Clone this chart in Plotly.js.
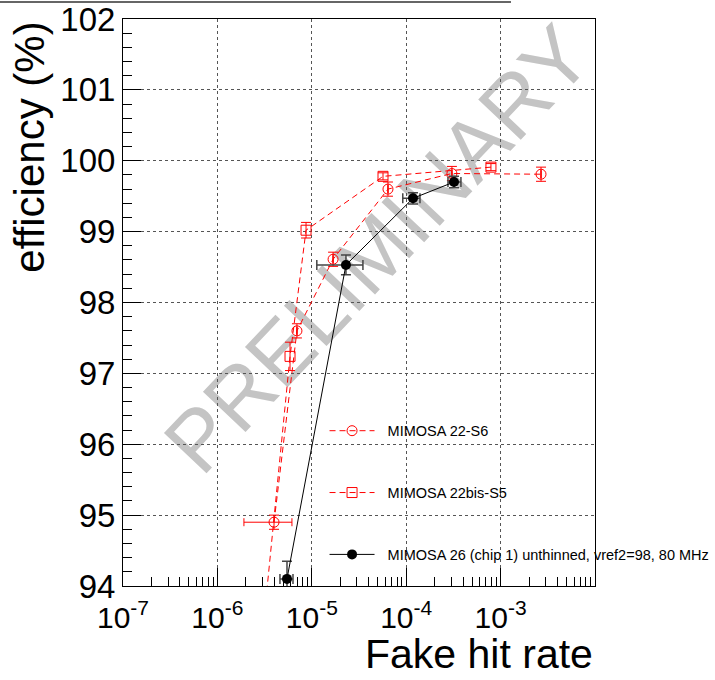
<!DOCTYPE html>
<html>
<head>
<meta charset="utf-8">
<script src="https://cdn.plot.ly/plotly-3.0.1.min.js"></script>
<style>
  html, body { margin: 0; padding: 0; background: #fff; }
  #chart { width: 715px; height: 680px; }
</style>
</head>
<body>
<div id="chart"></div>
<script>
// ---- data ----
const seriesNames = ["MIMOSA 22-S6", "MIMOSA 22bis-S5", "MIMOSA 26 (chip 1) unthinned, vref2=98, 80 MHz"];

const s6_x   = [3.98e-6, 6.96e-6, 1.68e-5, 6.41e-5, 3.05e-4, 2.68e-3];
const s6_y   = [94.90, 97.60, 98.61, 99.60, 99.82, 99.81];
const s6_exm = [2.07e-6, 0, 0, 0, 0, 0];
const s6_exp = [2.18e-6, 0, 0, 0, 0, 0];
const s6_ey  = [0.10, 0.10, 0.10, 0.10, 0.10, 0.10];

const s5_x   = [3.1e-6, 5.88e-6, 8.69e-6, 5.68e-5, 7.9e-4];
const s5_y   = [93.5, 97.24, 99.02, 99.78, 99.91];
const s5_ey  = [0.20, 0.20, 0.11, 0.05, 0.05];

const m26_x   = [5.46e-6, 2.30e-5, 1.18e-4, 3.21e-4];
const m26_y   = [94.10, 98.53, 99.47, 99.70];
const m26_exm = [0.86e-6, 1.17e-5, 2.6e-5, 4.4e-5];
const m26_exp = [0.86e-6, 1.18e-5, 2.2e-5, 5.9e-5];
const m26_ey  = [0.25, 0.14, 0.08, 0.08];

const xTickVals = [1e-7, 1e-6, 1e-5, 1e-4, 1e-3];
const xTickText = ["10<sup>-7</sup>", "10<sup>-6</sup>", "10<sup>-5</sup>", "10<sup>-4</sup>", "10<sup>-3</sup>"];

const xTitle = "Fake hit rate";
const yTitle = "efficiency (%)";
const watermark = "PRELIMINARY";

const FONT = "Liberation Sans, Arial, Helvetica, sans-serif";
const RED = "#ff0000";
const PAD = "\u00a0\u00a0";

const traces = [
  {
    name: PAD + seriesNames[0], legendgroup: "a",
    x: s6_x, y: s6_y, type: "scatter", mode: "lines+markers",
    line: { color: RED, width: 1, dash: "6px,4px" },
    marker: { symbol: "circle-open", size: 10, color: RED, line: { width: 1, color: RED } },
    error_x: { type: "data", array: s6_exp, arrayminus: s6_exm, color: RED, thickness: 1, width: 4 },
    error_y: { type: "data", array: s6_ey, color: RED, thickness: 1, width: 5 }
  },
  {
    name: PAD + seriesNames[1], legendgroup: "b",
    x: s5_x, y: s5_y, type: "scatter", mode: "lines+markers",
    line: { color: RED, width: 1, dash: "6px,4px" },
    marker: { symbol: "square-open", size: 10, color: RED, line: { width: 1, color: RED } },
    error_y: { type: "data", array: s5_ey, color: RED, thickness: 1, width: 5 }
  },
  {
    name: PAD + seriesNames[2], legendgroup: "c",
    x: m26_x, y: m26_y, type: "scatter", mode: "lines+markers",
    line: { color: "#000", width: 1 },
    marker: { symbol: "circle", size: 10, color: "#000" },
    error_x: { type: "data", array: m26_exp, arrayminus: m26_exm, color: "#444", thickness: 1.5, width: 5 },
    error_y: { type: "data", array: m26_ey, color: "#444", thickness: 1.5, width: 5 }
  }
];

const layout = {
  width: 715, height: 680,
  margin: { l: 123, r: 120, t: 19, b: 94, pad: 0, autoexpand: false },
  paper_bgcolor: "#fff", plot_bgcolor: "rgba(0,0,0,0)",
  font: { family: FONT, color: "#000", size: 14 },
  showlegend: true,
  legend: {
    x: 0.427, y: 0.302, xanchor: "left", yanchor: "top",
    bgcolor: "rgba(0,0,0,0)", borderwidth: 0,
    font: { family: FONT, size: 14.5, color: "#000" },
    traceorder: "grouped", tracegroupgap: 40, itemwidth: 45
  },
  xaxis: {
    type: "log", range: [-7, -2],
    tickmode: "array", tickvals: xTickVals, ticktext: xTickText,
    showline: true, linecolor: "#000", linewidth: 1, mirror: true,
    ticks: "inside", ticklen: 18, tickcolor: "#000", tickwidth: 1,
    minor: { ticks: "inside", ticklen: 9, dtick: "D1", tickcolor: "#000", showgrid: false },
    showgrid: true, gridcolor: "#555", gridwidth: 1, griddash: "dot",
    zeroline: false, ticklabelstandoff: 5,
    tickfont: { family: FONT, size: 30, color: "#000" }
  },
  yaxis: {
    range: [94, 102], dtick: 1,
    showline: true, linecolor: "#000", linewidth: 1, mirror: true,
    ticks: "inside", ticklen: 18, tickcolor: "#000", tickwidth: 1,
    minor: { ticks: "inside", ticklen: 9, dtick: 0.2, tickcolor: "#000", showgrid: false },
    showgrid: true, gridcolor: "#555", gridwidth: 1, griddash: "dot",
    zeroline: false,
    tickfont: { family: FONT, size: 33, color: "#000" }
  },
  shapes: [
    { type: "line", xref: "paper", yref: "paper", x0: -0.2606, x1: 0.822, y0: 1.030, y1: 1.030,
      line: { color: "#666", width: 2 } }
  ],
  annotations: [
    { text: watermark, xref: "paper", yref: "paper", x: 0.54, y: 0.595,
      xanchor: "center", yanchor: "middle", textangle: -46.7, showarrow: false,
      font: { family: FONT, size: 85, color: "#c4c4c4" } },
    { text: xTitle, xref: "paper", yref: "paper", x: 1, y: -0.12,
      xanchor: "right", yanchor: "middle", showarrow: false,
      font: { family: FONT, size: 41, color: "#000" } },
    { text: yTitle, xref: "paper", yref: "paper", x: -0.197, y: 0.998,
      xanchor: "center", yanchor: "top", textangle: -90, showarrow: false,
      font: { family: FONT, size: 42, color: "#000" } }
  ]
};

Plotly.newPlot("chart", traces, layout, { staticPlot: true, displayModeBar: false }).then(function (gd) {
  try {
    const ann = gd.querySelector('.annotation[data-index="0"]');
    const below = gd.querySelector('.layer-below');
    if (ann && below) below.appendChild(ann);
  } catch (e) {}
});
</script>
</body>
</html>
